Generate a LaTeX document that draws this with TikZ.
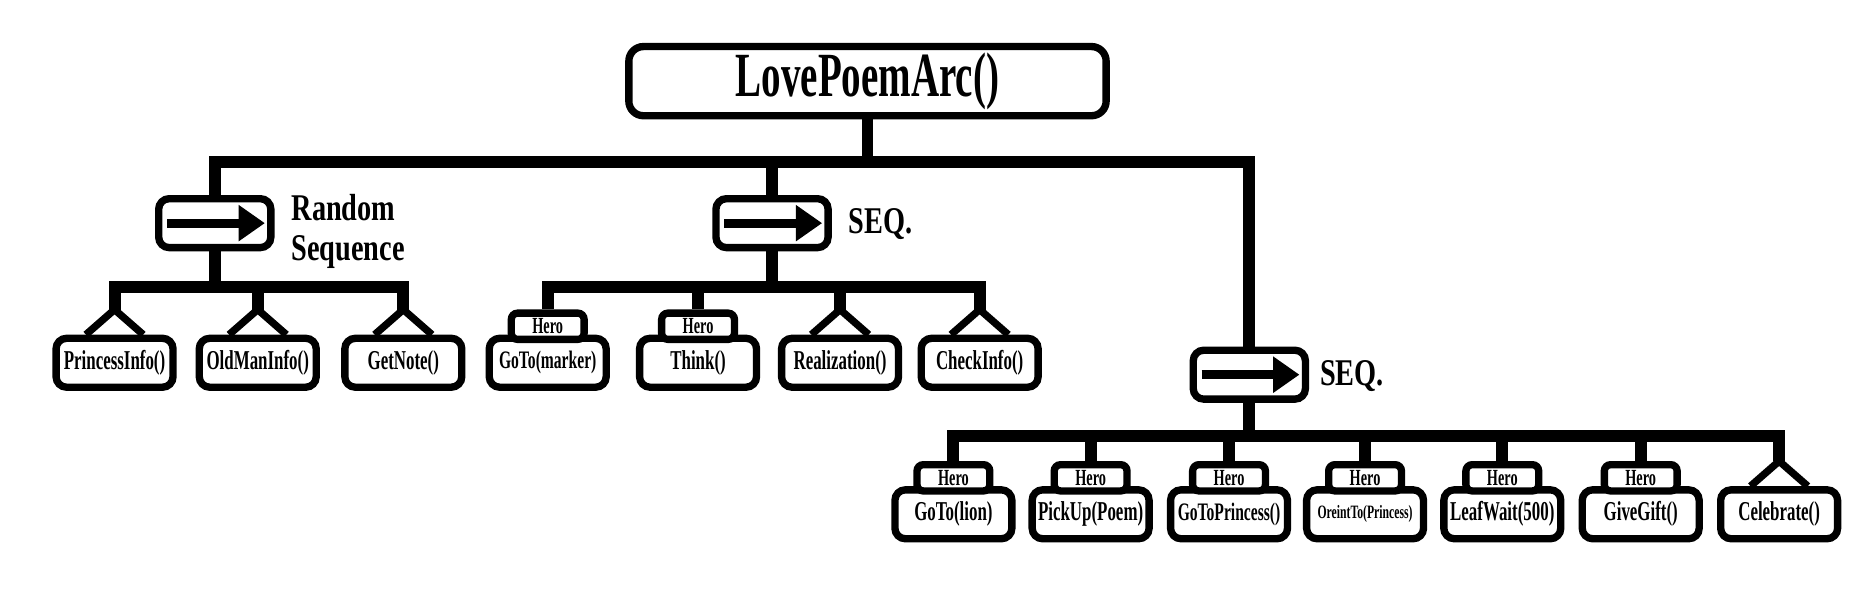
\documentclass[tikz,border=0pt]{standalone}
\usepackage{fontspec}
\newfontfamily\gothfont{Liberation Serif}[FakeStretch=0.62]
\newfontfamily\gothwide{Liberation Serif}[FakeStretch=0.75]
\usetikzlibrary{arrows.meta, positioning}

\begin{document}
\begin{tikzpicture}[
        x=0.2mm, y=0.2mm,
        rootbox/.style={
            draw,
            fill=white,
            rounded corners=7pt,
            line width=3.5pt,
            minimum width=8cm,
            minimum height=1.16cm,
            inner sep=0pt,
            font=\gothfont\bfseries\fontsize{30}{32}\selectfont
          },
        selbox/.style={
            draw,
            fill=white,
            rounded corners=5pt,
            line width=3.5pt,
            minimum width=1.88cm,
            minimum height=0.82cm
          },
        leaf/.style={
            draw,
            fill=white,
            rounded corners=5pt,
            line width=3.5pt,
            minimum width=1.96cm,
            minimum height=0.82cm,
            inner sep=1pt,
            font=\gothfont\bfseries\fontsize{13}{15}\selectfont
          },
        herotag/.style={
            draw,
            fill=white,
            rounded corners=3pt,
            line width=3.5pt,
            minimum width=1.22cm,
            minimum height=0.44cm,
            inner sep=0pt,
            font=\gothfont\bfseries\fontsize{11}{12}\selectfont
          },
        seqlabel/.style={anchor=west, align=left, inner sep=0pt, font=\gothwide\bfseries\fontsize{18}{19}\selectfont},
        wire/.style={line width=5.7pt},
        tri/.style={line width=3.5pt, line join=miter},
        selarrow/.style={-{Triangle[length=0.44cm,width=0.58cm]}, line width=4.2pt}
      ]
      \useasboundingbox (0,0) rectangle (1568,-507);

      \node[rootbox] (root) at (727,-68) {LovePoemArc()};

      \node[selbox] (rseq) at (180,-187) {};
      \node[selbox] (seq1) at (647,-187) {};
      \node[selbox] (seq2) at (1047,-314) {};
      \draw[selarrow] ([xshift=-0.8cm]rseq.center) -- ([xshift=0.84cm]rseq.center);
      \draw[selarrow] ([xshift=-0.8cm]seq1.center) -- ([xshift=0.84cm]seq1.center);
      \draw[selarrow] ([xshift=-0.8cm]seq2.center) -- ([xshift=0.84cm]seq2.center);
      \node[seqlabel] (rseq_lbl) at (244,-194) {Random\\Sequence};
      \node[seqlabel] (seq1_lbl) at (711,-188) {SEQ.};
      \node[seqlabel] (seq2_lbl) at (1106,-315) {SEQ.};

      \node[leaf] (princess) at (96,-304) {PrincessInfo()};
      \node[leaf] (oldman) at (216,-304) {OldManInfo()};
      \node[leaf] (getnote) at (338,-304) {GetNote()};

      \node[leaf, font=\gothfont\bfseries\fontsize{12}{14}\selectfont] (gotomarker) at (459,-304) {GoTo(marker)};
      \node[leaf] (think) at (585,-304) {Think()};
      \node[leaf] (realize) at (704,-304) {Realization()};
      \node[leaf] (checkinfo) at (821,-304) {CheckInfo()};

      \node[leaf] (gotolion) at (799,-431) {GoTo(lion)};
      \node[leaf] (pickup) at (914,-431) {PickUp(Poem)};
      \node[leaf, font=\gothfont\bfseries\fontsize{12}{14}\selectfont] (gotoprincess) at (1030,-431) {GoToPrincess()};
      \node[leaf, font=\gothfont\bfseries\fontsize{9}{11}\selectfont] (orient) at (1144,-431) {OreintTo(Princess)};
      \node[leaf] (leafwait) at (1259,-431) {LeafWait(500)};
      \node[leaf] (givegift) at (1375,-431) {GiveGift()};
      \node[leaf] (celebrate) at (1491,-431) {Celebrate()};

      \node[herotag] (gotomarker_h) at ([yshift=0.14cm]gotomarker.north) {Hero};
      \node[herotag] (think_h) at ([yshift=0.14cm]think.north) {Hero};
      \node[herotag] (gotolion_h) at ([yshift=0.14cm]gotolion.north) {Hero};
      \node[herotag] (pickup_h) at ([yshift=0.14cm]pickup.north) {Hero};
      \node[herotag] (gotoprincess_h) at ([yshift=0.14cm]gotoprincess.north) {Hero};
      \node[herotag] (orient_h) at ([yshift=0.14cm]orient.north) {Hero};
      \node[herotag] (leafwait_h) at ([yshift=0.14cm]leafwait.north) {Hero};
      \node[herotag] (givegift_h) at ([yshift=0.14cm]givegift.north) {Hero};

      \coordinate (princess_t) at ([yshift=0.42cm]princess.north);
      \coordinate (oldman_t) at ([yshift=0.42cm]oldman.north);
      \coordinate (getnote_t) at ([yshift=0.42cm]getnote.north);
      \coordinate (realize_t) at ([yshift=0.42cm]realize.north);
      \coordinate (checkinfo_t) at ([yshift=0.42cm]checkinfo.north);
      \coordinate (celebrate_t) at ([yshift=0.42cm]celebrate.north);
      \draw[tri] ([xshift=-0.48cm]princess.north) -- (princess_t) -- ([xshift=0.48cm]princess.north);
      \draw[tri] ([xshift=-0.48cm]oldman.north) -- (oldman_t) -- ([xshift=0.48cm]oldman.north);
      \draw[tri] ([xshift=-0.48cm]getnote.north) -- (getnote_t) -- ([xshift=0.48cm]getnote.north);
      \draw[tri] ([xshift=-0.48cm]realize.north) -- (realize_t) -- ([xshift=0.48cm]realize.north);
      \draw[tri] ([xshift=-0.48cm]checkinfo.north) -- (checkinfo_t) -- ([xshift=0.48cm]checkinfo.north);
      \draw[tri] ([xshift=-0.48cm]celebrate.north) -- (celebrate_t) -- ([xshift=0.48cm]celebrate.north);

      \draw[wire] (root.south) -- ++(0,-36) -| (rseq.north);
      \draw[wire] (root.south) -- ++(0,-36) -| (seq1.north);
      \draw[wire] (root.south) -- ++(0,-36) -| (seq2.north);

      \draw[wire] (rseq.south) -- ++(0,-30) -| (princess_t);
      \draw[wire] (rseq.south) -- ++(0,-30) -| (oldman_t);
      \draw[wire] (rseq.south) -- ++(0,-30) -| (getnote_t);

      \draw[wire] (seq1.south) -- ++(0,-30) -| (gotomarker_h.north);
      \draw[wire] (seq1.south) -- ++(0,-30) -| (think_h.north);
      \draw[wire] (seq1.south) -- ++(0,-30) -| (realize_t);
      \draw[wire] (seq1.south) -- ++(0,-30) -| (checkinfo_t);

      \draw[wire] (seq2.south) -- ++(0,-28) -| (gotolion_h.north);
      \draw[wire] (seq2.south) -- ++(0,-28) -| (pickup_h.north);
      \draw[wire] (seq2.south) -- ++(0,-28) -| (gotoprincess_h.north);
      \draw[wire] (seq2.south) -- ++(0,-28) -| (orient_h.north);
      \draw[wire] (seq2.south) -- ++(0,-28) -| (leafwait_h.north);
      \draw[wire] (seq2.south) -- ++(0,-28) -| (givegift_h.north);
      \draw[wire] (seq2.south) -- ++(0,-28) -| (celebrate_t);
    \end{tikzpicture}
\end{document}
